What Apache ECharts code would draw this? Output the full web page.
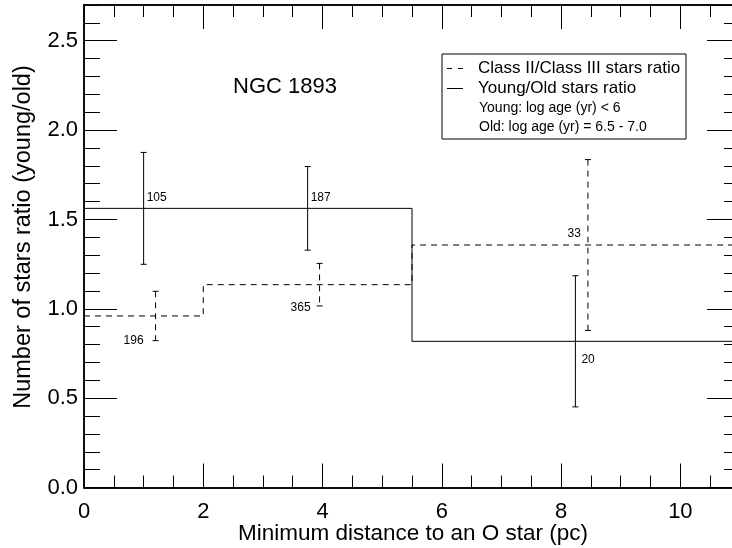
<!DOCTYPE html>
<html><head><meta charset="utf-8">
<script src="https://cdn.jsdelivr.net/npm/echarts@6/dist/echarts.min.js"></script>
<style>html,body{margin:0;padding:0;background:#fff}#c{width:732px;height:548px}</style>
</head><body><div id="c"></div>
<script>
// ---- data ----
const classBinEdges = [0, 2, 5.5, 11];
const classRatio = [0.96, 1.135, 1.357];
const youngOldBinEdges = [0, 5.5, 11];
const youngOldRatio = [1.562, 0.818];

const youngOldPointX = [1.0, 3.75, 8.24];
const youngOldPointY = [1.562, 1.562, 0.818];
const youngOldErr = [0.313, 0.234, 0.367];
const youngOldCounts = ['105', '187', '20'];

const classPointX = [1.2, 3.95, 8.45];
const classPointY = [0.96, 1.135, 1.357];
const classErr = [0.138, 0.119, 0.478];
const classCounts = ['196', '365', '33'];

const xMin = 0, xMax = 11, xMajor = 2, xMinor = 0.5;
const yMin = 0, yMax = 2.7, yMajor = 0.5, yMinor = 0.1;

const xTitle = 'Minimum distance to an O star (pc)';
const yTitle = 'Number of stars ratio (young/old)';
const plotTitle = 'NGC 1893';
const legendLines = ['Class II/Class III stars ratio', 'Young/Old stars ratio',
  'Young: log age (yr) < 6', 'Old: log age (yr) = 6.5 - 7.0'];

// ---- styles (label pixel offsets) ----
const youngOldLabelStyle = [[3, -11, 'left'], [3, -11, 'left'], [6, 18, 'left']];
const classLabelStyle = [[-12, 25, 'right'], [-9, 23, 'right'], [-7, -11, 'right']];
const FONT = "'Liberation Sans', Arial, Helvetica, sans-serif";
const DASH = [6, 5];

function stepPoints(edges, vals) {
  return edges.map((e, i) => [e, vals[Math.min(i, vals.length - 1)]]);
}

function errRenderer(labels, styles, dashed) {
  return function (params, api) {
    const i = params.dataIndex;
    const x = api.value(0), y = api.value(1), e = api.value(2);
    const top = api.coord([x, y + e]), bot = api.coord([x, y - e]), mid = api.coord([x, y]);
    const st = styles[i];
    const ls = { stroke: '#000', lineWidth: 1, lineDash: dashed ? DASH : null };
    return {
      type: 'group',
      children: [
        { type: 'line', shape: { x1: top[0], y1: top[1], x2: bot[0], y2: bot[1] }, style: ls },
        { type: 'line', shape: { x1: top[0] - 3, y1: top[1], x2: top[0] + 3, y2: top[1] }, style: { stroke: '#000', lineWidth: 1 } },
        { type: 'line', shape: { x1: bot[0] - 3, y1: bot[1], x2: bot[0] + 3, y2: bot[1] }, style: { stroke: '#000', lineWidth: 1 } },
        { type: 'text', x: mid[0] + st[0], y: mid[1] + st[1],
          style: { text: labels[i], fill: '#000', fontSize: 12, fontFamily: FONT, align: st[2], verticalAlign: 'middle' } }
      ]
    };
  };
}

const axisLineStyle = { show: true, onZero: false, lineStyle: { color: '#000', width: 1.5 } };
function xAx(pos, interval, len, labels) {
  return {
    type: 'value', min: xMin, max: xMax, interval: interval, position: pos,
    axisLine: axisLineStyle,
    axisTick: { show: true, inside: true, length: len, lineStyle: { color: '#000', width: 1 } },
    axisLabel: { show: labels, fontSize: 22, color: '#000', fontFamily: FONT, margin: 13, showMaxLabel: false },
    splitLine: { show: false }
  };
}
function yAx(pos, interval, len, labels) {
  return {
    type: 'value', min: yMin, max: yMax, interval: interval, position: pos,
    axisLine: axisLineStyle,
    axisTick: { show: true, inside: true, length: len, lineStyle: { color: '#000', width: 1 } },
    axisLabel: { show: labels, fontSize: 22, color: '#000', fontFamily: FONT, margin: 6, showMaxLabel: false,
      formatter: v => v.toFixed(1) },
    splitLine: { show: false }
  };
}

const option = {
  backgroundColor: '#fff',
  animation: false,
  grid: { left: 84, right: -8, top: 5, bottom: 60.5, containLabel: false, outerBoundsMode: 'none' },
  xAxis: [xAx('bottom', xMajor, 24, true), xAx('bottom', xMinor, 12, false),
          xAx('top', xMajor, 24, false), xAx('top', xMinor, 12, false)],
  yAxis: [yAx('left', yMajor, 33, true), yAx('left', yMinor, 16, false),
          yAx('right', yMajor, 33, false), yAx('right', yMinor, 16, false)],
  series: [
    { type: 'line', name: legendLines[0], step: 'end', symbol: 'none', data: stepPoints(classBinEdges, classRatio),
      lineStyle: { color: '#000', width: 1, type: DASH } },
    { type: 'line', name: legendLines[1], step: 'end', symbol: 'none', data: stepPoints(youngOldBinEdges, youngOldRatio),
      lineStyle: { color: '#000', width: 1 } },
    { type: 'custom', renderItem: errRenderer(youngOldCounts, youngOldLabelStyle, false),
      data: youngOldPointX.map((x, i) => [x, youngOldPointY[i], youngOldErr[i]]), encode: { x: 0, y: 1 }, clip: false },
    { type: 'custom', renderItem: errRenderer(classCounts, classLabelStyle, true),
      data: classPointX.map((x, i) => [x, classPointY[i], classErr[i]]), encode: { x: 0, y: 1 }, clip: false }
  ],
  graphic: [
    { type: 'text', left: 233, top: 76, style: { text: plotTitle, fontSize: 22, fill: '#000', fontFamily: FONT } },
    { type: 'text', x: 413, y: 534,
      style: { text: xTitle, fontSize: 22.5, fill: '#000', fontFamily: FONT, align: 'center', verticalAlign: 'middle' } },
    { type: 'text', x: 24, y: 237, rotation: Math.PI / 2,
      style: { text: yTitle, fontSize: 23.5, fill: '#000', fontFamily: FONT, align: 'center', verticalAlign: 'middle' } },
    { type: 'rect', shape: { x: 442, y: 54, width: 244, height: 85 }, style: { fill: '#fff', stroke: '#000', lineWidth: 1 } },
    { type: 'line', shape: { x1: 447, y1: 68.5, x2: 463, y2: 68.5 }, style: { stroke: '#000', lineWidth: 1, lineDash: [5, 6] } },
    { type: 'text', x: 478, y: 68.5, style: { text: legendLines[0], fontSize: 17, fill: '#000', fontFamily: FONT, verticalAlign: 'middle' } },
    { type: 'line', shape: { x1: 447, y1: 88.5, x2: 463, y2: 88.5 }, style: { stroke: '#000', lineWidth: 1 } },
    { type: 'text', x: 478, y: 88.5, style: { text: legendLines[1], fontSize: 17, fill: '#000', fontFamily: FONT, verticalAlign: 'middle' } },
    { type: 'text', x: 479, y: 108.5, style: { text: legendLines[2], fontSize: 14, fill: '#000', fontFamily: FONT, verticalAlign: 'middle' } },
    { type: 'text', x: 479, y: 127, style: { text: legendLines[3], fontSize: 14, fill: '#000', fontFamily: FONT, verticalAlign: 'middle' } }
  ]
};
const chart = echarts.init(document.getElementById('c'), null, { renderer: 'canvas' });
chart.setOption(option);
</script></body></html>
